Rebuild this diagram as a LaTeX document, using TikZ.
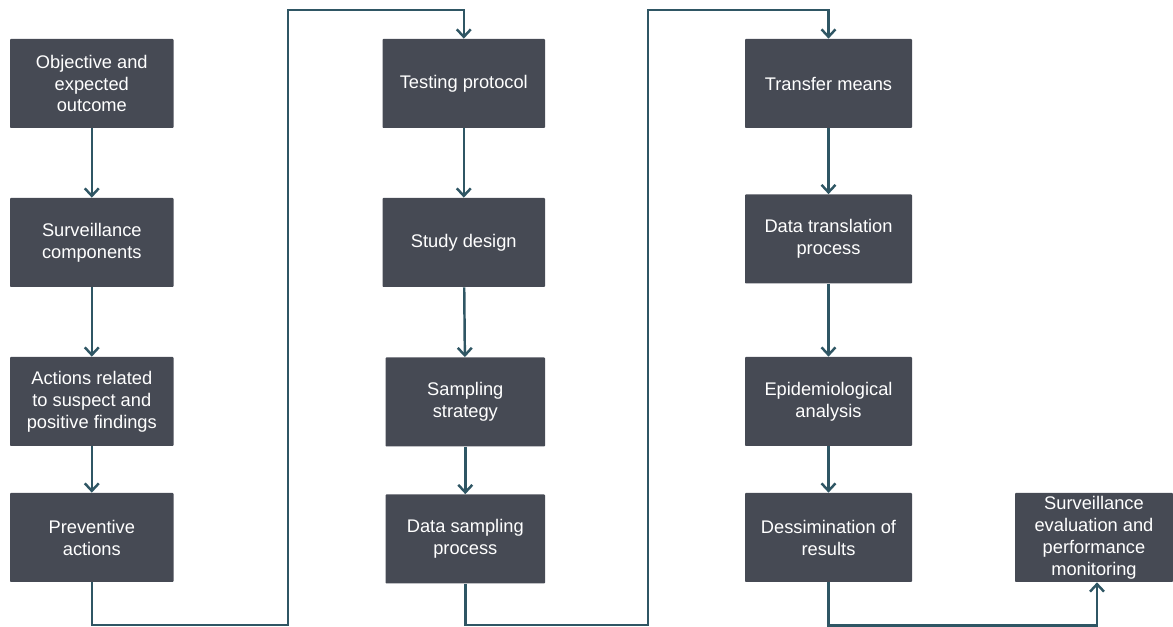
\documentclass[tikz,border=0pt]{standalone}
\usepackage{fontspec}
\setmainfont{Liberation Sans}
\usetikzlibrary{arrows.meta,positioning}
\definecolor{boxgray}{HTML}{464A54}
\definecolor{linkteal}{HTML}{2F5664}
\begin{document}
\begin{tikzpicture}[>={Straight Barb[length=1.5mm,width=2.8mm]},on grid,
	box/.style={fill=boxgray,text=white,rounded corners=0.5pt,inner sep=0pt,
		minimum width=3.27cm,minimum height=1.78cm,align=center,
		font=\fontsize{10.4}{12.5}\selectfont},
	link/.style={->,draw=linkteal,line width=1.4pt}]
	\useasboundingbox (0,0) rectangle (23.46,-12.54);
	% first column
	\node[box]                 (obj)   at (1.836,-1.67)            {Objective and\\expected\\outcome};
	\node[box]                 (comp)  [below=3.18cm of obj]       {Surveillance\\components};
	\node[box]                 (act)   [below=3.18cm of comp]      {Actions related\\to suspect and\\positive findings};
	\node[box]                 (prev)  [below=2.72cm of act]       {Preventive\\actions};
	% second column
	\node[box,minimum width=3.25cm] (test)  at (9.276,-1.67)       {Testing protocol};
	\node[box,minimum width=3.25cm] (study) [below=3.18cm of test] {Study design};
	\node[box,minimum width=3.19cm] (samp)  [below=3.19cm of study,xshift=0.03cm] {Sampling\\strategy};
	\node[box,minimum width=3.19cm] (dsamp) [below=2.74cm of samp] {Data sampling\\process};
	% third column
	\node[box,minimum width=3.34cm] (trans) at (16.57,-1.67)       {Transfer means};
	\node[box,minimum width=3.34cm] (trl)   [below=3.11cm of trans] {Data translation\\process};
	\node[box,minimum width=3.34cm] (epi)   [below=3.25cm of trl]  {Epidemiological\\analysis};
	\node[box,minimum width=3.34cm] (diss)  [below=2.72cm of epi]  {Dessimination of\\results};
	\node[box,minimum width=3.16cm] (eval)  [right=5.31cm of diss] {Surveillance\\evaluation and\\performance\\monitoring};
	% turning points of the long connectors
	\coordinate (downA) at (5.76,-12.5);
	\coordinate (upA)   at (5.76,-0.2);
	\coordinate (downB) at (12.96,-12.5);
	\coordinate (upB)   at (12.96,-0.2);
	\path
	(obj)   edge [link] (comp)
	(comp)  edge [link] (act)
	(act)   edge [link] (prev)
	(test)  edge [link] (study)
	(study) edge [link] (samp)
	(samp)  edge [link] (dsamp)
	(trans) edge [link] (trl)
	(trl)   edge [link] (epi)
	(epi)   edge [link] (diss);
	\draw[link] (prev.south) |- (downA) -- (upA) -| (test.north);
	\draw[link] (dsamp.south) |- (downB) -- (upB) -| (trans.north);
	\draw[link] (diss.south) -- ++(0,-0.86) -| ([xshift=0.06cm]eval.south);
\end{tikzpicture}
\end{document}
